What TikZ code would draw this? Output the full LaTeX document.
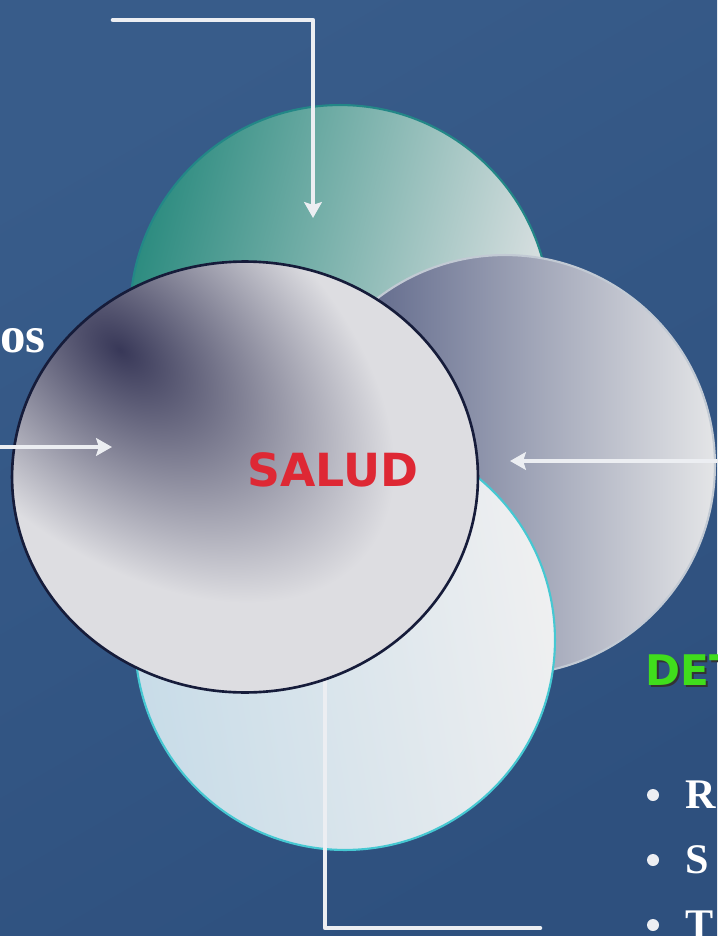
\documentclass[tikz,border=0pt]{standalone}
\usepackage{fontspec}
\setmainfont{Liberation Serif}
\newfontfamily\headfont{DejaVu Sans}
\usetikzlibrary{shapes.geometric,arrows.meta}
\definecolor{bgblue}{RGB}{56,92,138}
\definecolor{bgdeep}{RGB}{46,80,126}
\definecolor{flowwhite}{RGB}{236,238,242}
\definecolor{tealdark}{RGB}{45,140,128}
\definecolor{tealedge}{RGB}{35,135,135}
\definecolor{navygrey}{RGB}{72,82,122}
\definecolor{paleblue}{RGB}{200,220,232}
\definecolor{cyanedge}{RGB}{70,200,210}
\definecolor{greylight}{RGB}{228,229,231}
\definecolor{foldlight}{RGB}{221,221,225}
\definecolor{folddark}{RGB}{56,56,88}
\definecolor{frontedge}{RGB}{22,28,58}
\definecolor{saludred}{RGB}{222,40,52}
\definecolor{detgreen}{RGB}{64,222,28}
\tikzset{
  bubble/.style={circle,minimum size=8.4cm,inner sep=0pt,line width=1.2pt},
  flow/.style={draw=flowwhite,line width=2.6pt},
  sidetext/.style={text=white,font=\bfseries\fontsize{24}{24}\selectfont,inner sep=0pt}
}
\begin{document}
\begin{tikzpicture}[x=0.02cm,y=-0.02cm,line join=round,line cap=round,>={Stealth[width=10pt,length=9pt,inset=1.5pt]}]
\clip (0,0) rectangle (717,936);
\shade[top color=bgblue,bottom color=bgdeep,shading angle=30] (0,0) rectangle (717,936);
% the four circles
\node[bubble,left color=tealdark,right color=greylight,shading angle=75,draw=tealedge] (topc) at (340,315) {};
\coordinate (topin) at (113,20);
\coordinate (topend) at (313,218);
\draw[flow,->] (topin) -| (topend);
\node[bubble,left color=navygrey,right color=greylight,draw=greylight!80!bgblue] (rightc) at (505,465) {};
\node[bubble,left color=paleblue,right color=greylight!60!white,shading angle=100,draw=cyanedge] (bottomc) at (345,640) {};
\coordinate (rightin) at (717,461);
\coordinate (rightend) at (510,461);
\draw[flow,->] (rightin) -- (rightend);
\coordinate (bottomup) at (325,680);
\coordinate (bottomout) at (540,928);
\draw[flow] (bottomup) |- (bottomout);
\node[ellipse,minimum width=9.32cm,minimum height=8.62cm,inner sep=0pt,fill=foldlight] (frontc) at (245,477) {};
% dark fold in the front disc
\begin{scope}
  \clip (frontc.center) ellipse[x radius=233,y radius=215];
  \begin{scope}[transform canvas={shift={(120,350)},rotate=-40}]
    \shade[inner color=folddark,outer color=foldlight] (0,0) ellipse[x radius=320,y radius=192];
  \end{scope}
\end{scope}
\node[ellipse,minimum width=9.32cm,minimum height=8.62cm,inner sep=0pt,
  draw=frontedge,line width=1.5pt] (frontline) at (245,477) {};
\node[font=\headfont\bfseries\fontsize{26}{26}\selectfont,text=saludred] (salud) at (333,470) {SALUD};
\coordinate (leftin) at (0,447);
\coordinate (leftend) at (112,447);
\draw[flow,->] (leftin) -- (leftend);
% texts at the edges
\node[sidetext,anchor=base east,font=\bfseries\fontsize{29}{29}\selectfont] (os) at (46,352) {os};
\node[anchor=base west,inner sep=0pt,text=black!80,font=\headfont\bfseries\fontsize{24}{24}\selectfont] (detshadow) at (647,687) {DET};
\node[anchor=base west,inner sep=0pt,text=detgreen,font=\headfont\bfseries\fontsize{24}{24}\selectfont] (det) at (645,685) {DET};
\foreach \y/\t/\n in {795/R/ra, 860/S/sa, 925/T/ta} {
  \fill[flowwhite] (653,\y) circle(6);
  \node[sidetext,anchor=base west] (\n) at (685,\y+13) {\t};
}
\end{tikzpicture}
\end{document}
